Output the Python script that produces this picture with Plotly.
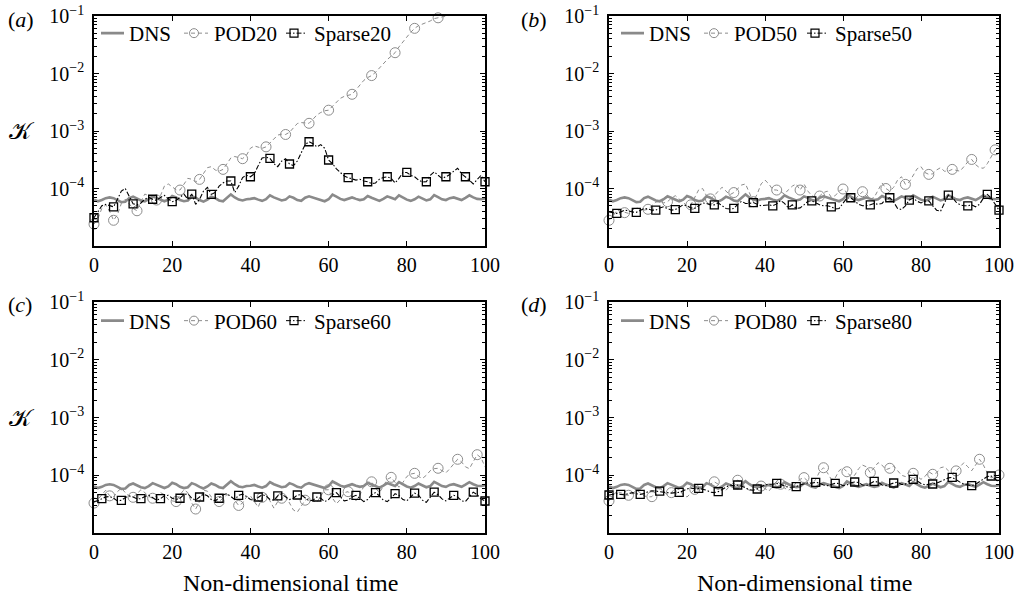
import plotly.graph_objects as go

# ---------------- data (values in units of 1e-5) ----------------
t = list(range(101))

dns = [6.4, 6.0, 6.3, 6.8, 7.0, 6.8, 6.3, 5.8, 5.9, 6.8, 7.2, 6.6, 6.2, 6.0, 6.5, 7.3, 6.8, 6.3, 6.0, 6.4,
       7.4, 7.0, 6.3, 6.0, 6.2, 7.3, 6.9, 6.3, 5.9, 6.4, 7.2, 6.8, 6.2, 6.0, 6.9, 7.9, 7.0, 6.4, 6.2, 6.5,
       6.6, 6.8, 6.4, 6.1, 6.5, 7.6, 7.0, 6.5, 6.2, 6.4, 7.3, 6.9, 6.3, 6.1, 6.9, 7.3, 7.0, 6.6, 6.3, 6.0,
       6.5, 7.8, 7.2, 6.6, 6.3, 6.6, 7.0, 6.6, 6.3, 6.5, 7.4, 6.9, 6.4, 6.1, 6.6, 7.3, 6.9, 6.5, 7.6, 7.0,
       6.4, 6.1, 6.5, 7.2, 6.7, 6.2, 6.5, 7.7, 7.1, 6.5, 6.3, 6.8, 7.0, 6.6, 6.3, 6.9, 7.6, 7.0, 6.6, 6.5,
       6.7]

pod20 = [2.4, 3.0, 4.5, 5.2, 4.0, 2.8, 3.5, 5.5, 6.5, 5.5, 4.5, 4.1, 6.0, 8.0, 7.5, 6.5, 6.3, 7.5, 11.0, 12.0,
         10.5, 9.5, 9.4, 12.0, 15.0, 14.5, 13.0, 14.4, 18.0, 23.0, 24.0, 21.0, 20.0, 21.5, 27.0, 34.0, 36.0, 34.0, 33.0, 38.0,
         50.0, 55.0, 52.0, 50.0, 53.0, 62.0, 75.0, 85.0, 88.0, 87.0, 95.0, 115, 135, 140, 138, 136, 160, 190, 210, 225,
         230, 270, 320, 370, 400, 420, 435, 520, 640, 760, 850, 920, 1050, 1250, 1500, 1750, 2000, 2300, 2900, 3600,
         4300, 5200, 6100, 6800, 7200, 7600, 8200, 9000, 9300, 9600, 9900, 10300, 11000, 12000, 13000, 14000, 15000, 16000, 17500, 19000,
         20000]
pod20_marks = [0, 5, 11, 16, 22, 27, 33, 38, 44, 49, 55, 60, 66, 71, 77, 82, 88]

sparse20 = [3.1, 4.0, 5.0, 5.3, 5.0, 4.8, 6.5, 9.0, 10.0, 7.5, 5.4, 5.2, 5.6, 6.5, 7.0, 6.5, 6.2, 7.0, 7.6, 6.6,
            5.9, 6.2, 7.0, 8.0, 6.5, 8.0, 5.3, 6.5, 9.0, 10.5, 7.9, 8.5, 11.0, 12.5, 13.5, 13.5, 8.5, 11.0, 15.5, 17.0,
            16.0, 18.0, 25.0, 34.0, 35.0, 33.5, 27.0, 24.0, 30.0, 33.0, 26.7, 25.0, 30.0, 42.0, 58.0, 65.0, 60.0, 53.0, 58.0, 50.0,
            31.3, 27.0, 22.0, 19.0, 16.5, 15.4, 14.5, 14.0, 14.5, 13.5, 13.1, 12.2, 12.5, 14.5, 15.5, 16.0, 15.0, 12.5, 15.0, 19.0,
            19.0, 17.0, 16.0, 14.0, 13.0, 13.1, 17.0, 19.5, 17.0, 15.0, 16.0, 17.5, 20.0, 22.5, 18.0, 16.0, 14.0, 12.0, 14.0, 17.0,
            13.1]
sparse20_marks = [0, 5, 10, 15, 20, 25, 30, 35, 40, 45, 50, 55, 60, 65, 70, 75, 80, 85, 90, 95, 100]

pod50 = [2.8, 3.3, 4.2, 4.0, 3.8, 3.7, 4.2, 4.6, 4.4, 4.2, 4.35, 5.0, 5.8, 6.0, 5.6, 5.9, 6.8, 7.5, 6.5, 5.6,
         5.0, 5.2, 7.0, 9.5, 10.0, 7.5, 6.6, 7.5, 9.0, 10.5, 9.0, 7.8, 8.5, 10.0, 11.5, 12.0, 8.5, 5.9, 8.0, 12.0,
         14.0, 12.0, 9.5, 9.4, 8.8, 8.0, 9.5, 11.0, 12.0, 9.4, 12.0, 9.0, 7.5, 7.0, 7.4, 8.5, 9.0, 7.0, 7.5, 9.0,
         9.8, 8.5, 7.0, 6.5, 7.5, 8.8, 8.0, 6.5, 7.0, 9.5, 12.5, 10.0, 9.0, 10.5, 14.0, 16.0, 11.8, 13.0, 17.0, 22.0,
         24.0, 19.0, 17.6, 18.0, 21.0, 23.0, 20.0, 20.0, 21.5, 20.5, 20.0, 24.0, 29.0, 32.0, 26.0, 23.0, 22.5, 27.0, 36.0, 47.0,
         48.0]
pod50_marks = [0, 4, 10, 15, 21, 26, 32, 37, 43, 49, 54, 60, 65, 71, 76, 82, 88, 93, 99]

sparse50 = [3.9, 3.8, 3.7, 3.9, 4.2, 4.1, 3.9, 3.85, 4.1, 4.5, 4.4, 4.2, 4.2, 4.6, 4.8, 4.5, 4.2, 4.3, 4.7, 5.2,
            5.0, 4.6, 4.5, 5.0, 5.6, 5.5, 5.2, 5.2, 5.6, 5.0, 4.5, 4.4, 4.5, 5.3, 6.0, 5.5, 5.5, 5.7, 5.3, 5.0,
            5.1, 5.2, 5.0, 5.4, 6.2, 5.5, 4.6, 5.2, 4.5, 4.6, 5.2, 6.0, 6.1, 5.6, 5.2, 5.0, 5.0, 4.8, 4.4, 4.5,
            5.5, 6.8, 6.9, 6.0, 5.3, 5.0, 5.0, 5.2, 5.5, 5.3, 5.5, 6.5, 6.9, 5.8, 4.5, 4.3, 5.0, 6.3, 6.8, 6.0,
            5.6, 6.0, 6.1, 5.0, 4.2, 4.0, 5.5, 7.7, 7.0, 5.8, 5.2, 5.0, 5.0, 5.2, 4.8, 5.3, 6.8, 7.9, 6.8, 5.2,
            4.2]
sparse50_marks = [2, 7, 12, 17, 22, 27, 32, 37, 42, 47, 52, 57, 62, 67, 72, 77, 82, 87, 92, 97, 100]

pod60 = [3.3, 3.8, 4.6, 5.5, 4.4, 4.2, 5.2, 6.0, 5.0, 4.3, 4.15, 4.8, 5.6, 5.0, 4.3, 4.0, 4.4, 5.0, 4.6, 3.8,
         3.6, 3.5, 4.6, 5.6, 5.0, 3.3, 2.6, 3.5, 5.5, 5.3, 4.2, 3.7, 3.5, 4.0, 4.6, 4.5, 3.6, 3.0, 3.3, 4.2,
         4.4, 3.5, 2.8, 4.15, 4.8, 3.6, 2.7, 3.5, 4.0, 4.4, 3.3, 2.5, 2.3, 3.0, 3.7, 4.0, 3.6, 3.4, 4.5, 5.6,
         5.6, 4.0, 3.2, 3.8, 5.0, 5.2, 4.2, 3.6, 4.5, 6.5, 7.5, 7.7, 6.0, 5.0, 6.5, 8.5, 9.2, 7.5, 6.2, 7.5,
         9.5, 10.5, 10.8, 9.5, 8.8, 10.0, 12.0, 13.0, 13.2, 12.0, 11.0, 13.0, 16.0, 18.9, 17.0, 14.0, 13.0, 17.0, 22.7, 20.0,
         14.0]
pod60_marks = [0, 4, 10, 15, 21, 26, 32, 37, 43, 48, 54, 60, 65, 71, 76, 82, 88, 93, 98]

sparse60 = [3.5, 3.6, 3.93, 4.2, 4.3, 4.0, 3.6, 3.68, 4.1, 4.4, 4.2, 3.9, 3.93, 4.3, 4.5, 4.1, 3.7, 3.93, 4.4, 4.5,
            4.0, 3.8, 4.0, 4.6, 4.8, 4.0, 3.7, 4.2, 4.7, 4.4, 3.8, 3.6, 4.0, 4.6, 4.8, 4.2, 3.8, 4.5, 4.7, 4.3,
            3.8, 3.7, 4.2, 4.6, 4.4, 3.8, 3.7, 4.4, 4.7, 4.2, 3.8, 4.0, 4.55, 4.6, 4.0, 3.6, 3.7, 4.2, 4.0, 3.5,
            3.8, 4.6, 5.0, 4.3, 3.6, 3.7, 4.2, 4.5, 4.0, 3.5, 3.8, 4.6, 5.0, 4.4, 3.7, 3.5, 4.0, 4.8, 4.5, 3.8,
            3.6, 4.2, 4.9, 4.5, 3.7, 3.4, 4.2, 5.1, 4.6, 3.9, 3.6, 4.0, 4.5, 4.2, 3.6, 3.5, 4.3, 5.1, 4.6, 3.9,
            3.58]
sparse60_marks = [2, 7, 12, 17, 22, 27, 32, 37, 42, 47, 52, 57, 62, 67, 72, 77, 82, 87, 92, 97, 100]

pod80 = [3.6, 4.5, 5.2, 5.0, 4.6, 4.5, 4.8, 5.5, 5.0, 4.4, 4.2, 4.26, 5.2, 6.0, 5.2, 4.6, 5.0, 6.0, 5.6, 4.6,
         4.2, 5.0, 5.7, 5.6, 6.5, 7.2, 7.0, 7.7, 7.0, 6.0, 5.5, 6.5, 7.5, 8.2, 7.5, 6.0, 5.5, 6.2, 7.2, 6.5,
         5.8, 5.3, 6.5, 8.0, 7.0, 6.0, 5.5, 6.0, 7.5, 8.5, 9.1, 8.0, 6.8, 8.5, 11.5, 13.5, 11.0, 8.5, 9.0, 12.0,
         13.5, 11.5, 9.5, 10.0, 13.0, 15.0, 14.0, 11.1, 13.5, 16.5, 15.0, 12.5, 13.2, 14.5, 12.0, 10.0, 9.5, 11.5, 10.8, 9.5,
         8.5, 9.5, 11.5, 10.4, 11.0, 13.5, 14.0, 12.0, 10.5, 11.9, 14.0, 16.5, 14.0, 12.0, 15.0, 18.9, 15.0, 11.0, 9.0, 9.5,
         10.1]
pod80_marks = [0, 5, 11, 16, 22, 27, 33, 39, 44, 50, 55, 61, 67, 72, 78, 83, 89, 95, 100]

sparse80 = [4.55, 4.7, 4.8, 4.67, 4.6, 4.8, 5.0, 4.8, 4.67, 4.8, 5.2, 5.4, 5.3, 5.33, 5.2, 5.0, 4.9, 5.0, 5.06, 5.4,
            5.8, 6.0, 5.8, 5.94, 5.8, 5.5, 5.1, 5.0, 5.2, 5.7, 6.3, 6.8, 6.6, 6.78, 6.5, 6.0, 5.6, 5.5, 5.78, 6.3,
            6.8, 7.0, 7.0, 7.24, 7.0, 6.5, 6.2, 6.2, 6.34, 6.8, 7.2, 7.4, 7.3, 7.54, 7.3, 6.8, 6.6, 6.9, 7.24, 7.2,
            6.6, 6.8, 7.4, 7.64, 7.5, 6.8, 6.6, 7.2, 7.85, 7.6, 6.8, 6.6, 7.0, 7.34, 7.6, 6.9, 7.0, 8.0, 8.5, 8.0,
            7.2, 6.8, 7.0, 7.05, 7.3, 7.8, 8.3, 9.0, 9.2, 8.5, 7.6, 7.0, 6.8, 6.6, 7.0, 7.8, 8.8, 9.5, 9.7, 8.6,
            7.6]
sparse80_marks = [0, 3, 8, 13, 18, 23, 28, 33, 38, 43, 48, 53, 58, 63, 68, 73, 78, 83, 88, 93, 98]

panel_labels = ["(<i>a</i>)", "(<i>b</i>)", "(<i>c</i>)", "(<i>d</i>)"]
pod_names = ["POD20", "POD50", "POD60", "POD80"]
sparse_names = ["Sparse20", "Sparse50", "Sparse60", "Sparse80"]
ytick_vals = [1e-4, 1e-3, 1e-2, 1e-1]
ytick_text = ["10<sup>−4</sup>", "10<sup>−3</sup>", "10<sup>−2</sup>", "10<sup>−1</sup>"]
xtick_vals = [0, 20, 40, 60, 80, 100]
SCALE = 1e-5

pods = [pod20, pod50, pod60, pod80]
pod_marks = [pod20_marks, pod50_marks, pod60_marks, pod80_marks]
sparses = [sparse20, sparse50, sparse60, sparse80]
sparse_marks = [sparse20_marks, sparse50_marks, sparse60_marks, sparse80_marks]

# ---------------- layout geometry ----------------
W, H = 1021, 596
FONT = "Liberation Serif"
xdoms = [(94 / W, 485 / W), (609 / W, 999 / W)]
ydoms = [(1 - 246 / H, 1 - 16 / H), (1 - 533 / H, 1 - 302 / H)]
legend_x_px = [[89, 174, 274], [609, 694, 795]]   # left edge of each legend entry, by column
legend_y_px = [33.5, 321]                           # vertical centre, by row

DNS_COLOR = "#8a8a8a"
POD_COLOR = "#8c8c8c"
POD_DASH = "4px,3px"
SP_DASH = "5px,2px,1.5px,2px"
# legend samples: shorter visible segments, as in the original legend
DNS_LEG_DASH = "0px,7px,24px,40px"
POD_LEG_DASH = "0px,5px,4px,3px,4px,3px,4px,3px,3px,40px"
SP_LEG_DASH = "0px,7px,5px,2px,1.5px,2px,5px,2px,1.5px,40px"

fig = go.Figure()
layout = dict(template="none", width=W, height=H, margin=dict(l=0, r=0, t=0, b=0, autoexpand=False),
              paper_bgcolor="white", plot_bgcolor="white", showlegend=True,
              font=dict(family=FONT, size=19, color="black"))
annotations = []

minor_vals = [m * 10 ** e for e in range(-5, -1) for m in range(2, 10)]


def sc(v):
    return [a * SCALE for a in v]


for i in range(4):
    row, col = divmod(i, 2)
    sfx = "" if i == 0 else str(i + 1)
    xa, ya = "x" + sfx, "y" + sfx
    legs = []
    for j in range(3):
        n = 3 * i + j + 1
        legs.append("legend" if n == 1 else "legend%d" % n)
    xd, yd = xdoms[col], ydoms[row]

    pod = pods[i]
    sp = sparses[i]
    # DNS line (drawn) + legend entry
    fig.add_trace(go.Scatter(x=t, y=sc(dns), mode="lines", showlegend=False,
                             line=dict(color=DNS_COLOR, width=2.6),
                             xaxis=xa, yaxis=ya))
    fig.add_trace(go.Scatter(x=[None], y=[None], mode="lines", name="DNS",
                             line=dict(color=DNS_COLOR, width=2.6, dash=DNS_LEG_DASH),
                             xaxis=xa, yaxis=ya, legend=legs[0]))
    fig.add_trace(go.Scatter(x=[None], y=[None], mode="lines+markers", name=pod_names[i],
                             line=dict(color=POD_COLOR, width=1, dash=POD_LEG_DASH),
                             marker=dict(symbol="circle-open", size=9, color=POD_COLOR, line=dict(width=1)),
                             xaxis=xa, yaxis=ya, legend=legs[1]))
    fig.add_trace(go.Scatter(x=[None], y=[None], mode="lines+markers", name=sparse_names[i],
                             line=dict(color="black", width=1, dash=SP_LEG_DASH),
                             marker=dict(symbol="square-open", size=8, color="black", line=dict(width=1.2)),
                             xaxis=xa, yaxis=ya, legend=legs[2]))
    # POD line + markers
    fig.add_trace(go.Scatter(x=t, y=sc(pod), mode="lines", showlegend=False,
                             line=dict(color=POD_COLOR, width=1, dash=POD_DASH),
                             xaxis=xa, yaxis=ya))
    fig.add_trace(go.Scatter(x=[t[k] for k in pod_marks[i]], y=[pod[k] * SCALE for k in pod_marks[i]],
                             mode="markers", showlegend=False, cliponaxis=False,
                             marker=dict(symbol="circle-open", size=10, color=POD_COLOR, line=dict(width=1)),
                             xaxis=xa, yaxis=ya))
    # Sparse line + markers
    fig.add_trace(go.Scatter(x=t, y=sc(sp), mode="lines", showlegend=False,
                             line=dict(color="black", width=1.1, dash=SP_DASH),
                             xaxis=xa, yaxis=ya))
    fig.add_trace(go.Scatter(x=[t[k] for k in sparse_marks[i]], y=[sp[k] * SCALE for k in sparse_marks[i]],
                             mode="markers", showlegend=False, cliponaxis=False,
                             marker=dict(symbol="square-open", size=8, color="black", line=dict(width=1.3)),
                             xaxis=xa, yaxis=ya))

    axis_common = dict(showline=True, linecolor="black", linewidth=1.5, mirror="allticks",
                       ticks="inside", ticklen=5, tickwidth=1, tickcolor="black",
                       showgrid=False, zeroline=False, automargin=False,
                       tickfont=dict(family=FONT, size=20, color="black"))
    layout["xaxis" + sfx] = dict(axis_common, domain=list(xd), anchor=ya, range=[0, 100],
                                 tickmode="array", tickvals=xtick_vals)
    layout["yaxis" + sfx] = dict(axis_common, domain=list(yd), anchor=xa, type="log", range=[-5, -1],
                                 tickmode="array", tickvals=ytick_vals, ticktext=ytick_text,
                                 ticklabelstandoff=4,
                                 minor=dict(tickmode="array", tickvals=minor_vals, ticks="inside",
                                            ticklen=3, tickcolor="black", tickwidth=1))
    for j in range(3):
        layout[legs[j]] = dict(x=legend_x_px[col][j] / W, y=1 - legend_y_px[row] / H,
                               xanchor="left", yanchor="middle",
                               orientation="h", bgcolor="rgba(0,0,0,0)", borderwidth=0,
                               font=dict(family=FONT, size=21, color="black"),
                               itemwidth=30, tracegroupgap=0)

    # panel label
    annotations.append(dict(text=panel_labels[i], xref="paper", yref="paper",
                            x=(6 if col == 0 else 519) / W, y=1 - (19 if row == 0 else 304) / H,
                            xanchor="left", yanchor="middle", showarrow=False,
                            font=dict(family=FONT, size=22, color="black")))

# y-axis symbol
for yy in (131, 418):
    annotations.append(dict(text="𝒦", xref="paper", yref="paper", x=22 / W, y=1 - yy / H,
                            xanchor="center", yanchor="middle", showarrow=False,
                            font=dict(family=FONT, size=24, color="black")))
# x-axis titles
for xx in (290, 804):
    annotations.append(dict(text="Non-dimensional time", xref="paper", yref="paper",
                            x=xx / W, y=1 - 583 / H, xanchor="center", yanchor="middle",
                            showarrow=False, font=dict(family=FONT, size=24, color="black")))

layout["annotations"] = annotations
fig.update_layout(**layout)
fig.write_html("out.html")
